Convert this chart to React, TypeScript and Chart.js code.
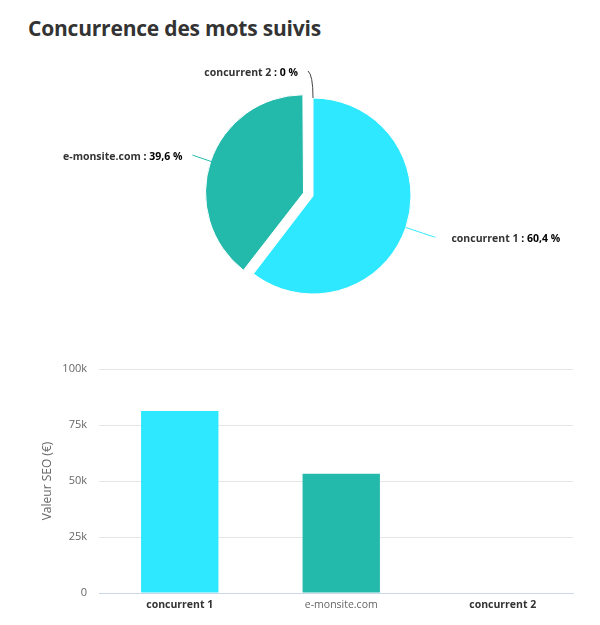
import React, { useEffect, useRef } from 'react';
import { Chart, registerables } from 'chart.js';

Chart.register(...registerables);

// ---- data ----
const categories = ['concurrent 1', 'e-monsite.com', 'concurrent 2'];
const sharePercent = [60.4, 39.6, 0];
const seoValues = [81200, 53200, 0];
const sliceColors = ['#2ee8ff', '#24baab', '#434348'];
const explodeOffsets = [0, 10, 0];
const highlighted = [true, false, true];
const yTickValues = [0, 25000, 50000, 75000, 100000];

const TITLE = 'Concurrence des mots suivis';
const Y_TITLE = 'Valeur SEO (€)';
const FONT = '"Open Sans", "DejaVu Sans", sans-serif';

const fmtPct = (v: number) =>
  (Number.isInteger(v) ? String(v) : v.toFixed(1).replace('.', ',')) + ' %';

// keep exploded slices at the same radius as the others (Chart.js grows them)
const explodeFixPlugin = {
  id: 'explodeFix',
  afterDatasetsUpdate(chart: any) {
    const meta = chart.getDatasetMeta(0);
    meta.data.forEach((arc: any, i: number) => {
      const off = explodeOffsets[i] || 0;
      if (!off) return;
      const fix = 1 - Math.sin(Math.min(Math.PI, arc.circumference || 0));
      arc.outerRadius = arc.outerRadius - off * fix;
    });
  },
};

const pieLabelsPlugin = {
  id: 'pieLabels',
  afterDatasetsDraw(chart: any) {
    const ctx = chart.ctx as CanvasRenderingContext2D;
    const meta = chart.getDatasetMeta(0);
    meta.data.forEach((arc: any, i: number) => {
      const p = arc.getProps(['x', 'y', 'startAngle', 'endAngle', 'outerRadius'], true);
      const mid = (p.startAngle + p.endAngle) / 2;
      const cos = Math.cos(mid);
      const sin = Math.sin(mid);
      const off = explodeOffsets[i] || 0;
      const cx = p.x + cos * off;
      const cy = p.y + sin * off;
      const left = cos < 0;
      const len = left ? 23 : 31;
      const gap = left ? 10 : 16;
      const w = 1 - Math.abs(cos);
      const sx = cx + cos * p.outerRadius;
      const sy = cy + sin * p.outerRadius;
      const rx = cx + cos * (p.outerRadius + len);
      const ry = cy + sin * (p.outerRadius + len);
      const ex = rx + (left ? -5 : 5) * w;
      const ey = ry - 4 * w;
      ctx.save();
      ctx.strokeStyle = sliceColors[i];
      ctx.lineWidth = 1;
      ctx.beginPath();
      ctx.moveTo(sx, sy);
      ctx.quadraticCurveTo(rx, ry, ex, ey);
      ctx.stroke();
      const name = categories[i];
      const val = ' : ' + fmtPct(sharePercent[i]);
      const nameFont = `bold 10.5px ${FONT}`;
      const valFont = `bold 10.5px ${FONT}`;
      ctx.font = nameFont;
      const wName = ctx.measureText(name).width;
      ctx.font = valFont;
      const wVal = ctx.measureText(val).width;
      const total = wName + wVal;
      const lx = left ? ex - gap - total : ex + gap;
      const ly = ey + 2;
      ctx.textBaseline = 'middle';
      ctx.textAlign = 'left';
      ctx.font = nameFont;
      ctx.fillStyle = '#333333';
      ctx.fillText(name, lx, ly);
      ctx.font = valFont;
      ctx.fillStyle = '#000000';
      ctx.fillText(val, lx + wName, ly);
      ctx.restore();
    });
  },
};

function PieChart() {
  const ref = useRef<HTMLCanvasElement>(null);
  useEffect(() => {
    const chart = new Chart(ref.current!, {
      type: 'pie',
      data: {
        labels: categories,
        datasets: [
          {
            data: sharePercent,
            backgroundColor: sliceColors,
            borderColor: '#ffffff',
            borderWidth: [1, 1, 0],
            // Chart.js translates an arc by offset / 4 pixels
            offset: explodeOffsets.map((v) => v * 4),
          },
        ],
      },
      options: {
        responsive: false,
        animation: false,
        events: [],
        radius: 98,
        layout: { padding: { left: 26 } },
        plugins: { legend: { display: false }, tooltip: { enabled: false } },
      } as any,
      plugins: [explodeFixPlugin, pieLabelsPlugin],
    });
    return () => chart.destroy();
  }, []);
  return (
    <canvas
      ref={ref}
      width={584}
      height={292}
      style={{ position: 'absolute', left: 0, top: 42, width: 584, height: 292 }}
    />
  );
}

function BarChart() {
  const ref = useRef<HTMLCanvasElement>(null);
  useEffect(() => {
    const chart = new Chart(ref.current!, {
      type: 'bar',
      data: {
        labels: categories,
        datasets: [
          {
            data: seoValues.map((v, i) => ({ x: i, y: v })),
            backgroundColor: sliceColors,
            borderWidth: 0,
            categoryPercentage: 1,
            barPercentage: 0.479,
          },
        ],
      },
      options: {
        responsive: false,
        animation: false,
        events: [],
        layout: { padding: { top: 19, right: 19, left: 0, bottom: 0 } },
        plugins: { legend: { display: false }, tooltip: { enabled: false } },
        scales: {
          x: {
            type: 'linear',
            offset: false,
            min: -0.5,
            max: 2.435,
            afterBuildTicks: (s: any) => {
              s.ticks = categories.map((_, i) => ({ value: i }));
            },
            grid: { display: false, offset: false, drawTicks: false },
            border: { display: true, color: '#ccd6eb', width: 1 },
            ticks: {
              padding: 6,
              autoSkip: false,
              maxRotation: 0,
              callback: (v: any) => categories[v] ?? '',
              color: (c: any) => (highlighted[c.index] ? '#333333' : '#666666'),
              font: (c: any) => ({
                family: FONT,
                size: 10.5,
                weight: highlighted[c.index] ? 'bold' : 'normal',
              }),
            },
            afterFit: (s: any) => {
              s.height = 27;
            },
          },
          y: {
            min: 0,
            max: 100000,
            afterBuildTicks: (s: any) => {
              s.ticks = yTickValues.map((v) => ({ value: v }));
            },
            grid: {
              drawTicks: false,
              color: (c: any) => (c.tick && c.tick.value === 0 ? 'rgba(0,0,0,0)' : '#e6e6e6'),
              lineWidth: 1,
            },
            border: { display: false },
            ticks: {
              padding: 12,
              color: '#666666',
              font: { family: FONT, size: 11 },
              callback: (v: any) => (v === 0 ? '0' : v / 1000 + 'k'),
            },
            title: {
              display: true,
              text: Y_TITLE,
              color: '#666666',
              font: { family: FONT, size: 12 },
              padding: { top: 32.5, bottom: 0 },
            },
            afterFit: (s: any) => {
              s.width = 91;
            },
          },
        },
      } as any,
    });
    return () => chart.destroy();
  }, []);
  return (
    <canvas
      ref={ref}
      width={584}
      height={270}
      style={{ position: 'absolute', left: 0, top: 342, width: 584, height: 270 }}
    />
  );
}

export default function App() {
  return (
    <div style={{ position: 'relative', width: 584, height: 612, background: '#ffffff' }}>
      <div
        style={{
          position: 'absolute',
          left: 20,
          top: 6,
          fontFamily: '"Open Sans", sans-serif',
          fontWeight: 700,
          fontSize: 21,
          letterSpacing: '-0.2px',
          lineHeight: 'normal',
          color: '#333333',
          whiteSpace: 'nowrap',
        }}
      >
        {TITLE}
      </div>
      <PieChart />
      <BarChart />
    </div>
  );
}
